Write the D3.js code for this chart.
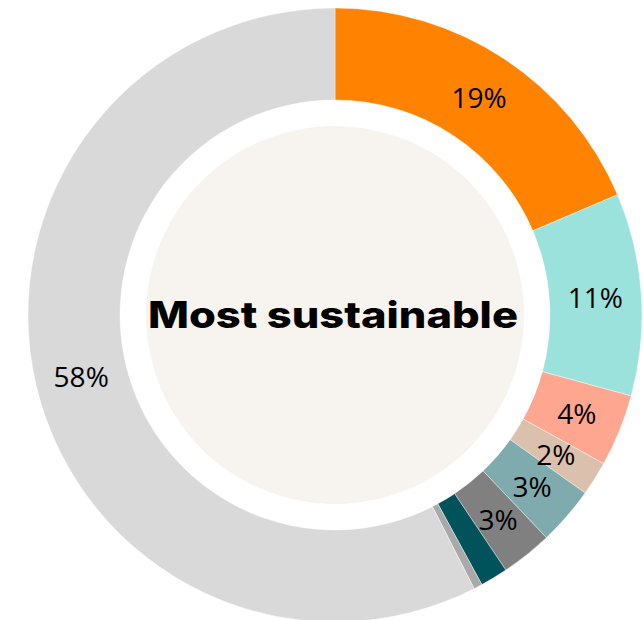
<!DOCTYPE html>
<html>
<head>
<meta charset="utf-8">
<script src="https://cdn.jsdelivr.net/npm/d3@7/dist/d3.min.js"></script>
<style>
  html, body { margin: 0; padding: 0; background: #ffffff; }
  svg { display: block; }
</style>
</head>
<body>
<svg id="chart" width="643" height="620"></svg>
<script>
// Share of responses (percent), clockwise from 12 o'clock
const categories = ["A", "B", "C", "D", "E", "F", "G", "H", "Other"];
const shares     = [18.6, 10.65, 3.8, 1.8, 3.07, 2.7, 1.45, 0.45, 57.5];
const colors     = ["#FF8200", "#9BE2DC", "#FFA690", "#DBC0AD", "#7FAAAE", "#808080", "#00535B", "#A9A9A9", "#D9D9D9"];
const centerTitle = "Most sustainable";

const svg = d3.select("#chart");
const cx = 335, cy = 315;
const outerR = 307, innerR = 215, discR = 189;

const g = svg.append("g").attr("transform", `translate(${cx},${cy})`);

const data = categories.map((c, i) => ({ name: c, value: shares[i], color: colors[i] }));

const pie = d3.pie().value(d => d.value).sort(null);
const arc = d3.arc().innerRadius(innerR).outerRadius(outerR);
const labelArc = d3.arc().innerRadius(261).outerRadius(261);

const arcs = pie(data);

g.selectAll("path.slice")
  .data(arcs)
  .enter().append("path")
  .attr("class", "slice")
  .attr("d", arc)
  .attr("fill", d => d.data.color)
  .attr("stroke", "#ffffff")
  .attr("stroke-width", 0.4);

// inner disc
g.append("circle").attr("r", discR).attr("fill", "#F7F4EF");

// percentage labels (only for slices large enough to hold one)
g.selectAll("text.pct")
  .data(arcs.filter(d => d.data.value >= 1.5))
  .enter().append("text")
  .attr("class", "pct")
  .attr("transform", d => `translate(${labelArc.centroid(d)})`)
  .attr("text-anchor", "middle")
  .attr("dominant-baseline", "central")
  .attr("font-family", "'Open Sans', sans-serif")
  .attr("font-size", 28)
  .attr("font-weight", 400)
  .attr("fill", "#000")
  .text(d => Math.round(d.data.value) + "%");

g.append("text")
  .attr("x", -2)
  .attr("y", 13)
  .attr("text-anchor", "middle")
  .attr("font-family", "Inter, 'Noto Sans', sans-serif")
  .attr("font-size", 37)
  .attr("font-weight", 800)
  .attr("textLength", 370)
  .attr("lengthAdjust", "spacingAndGlyphs")
  .attr("fill", "#000")
  .text(centerTitle);
</script>
</body>
</html>
